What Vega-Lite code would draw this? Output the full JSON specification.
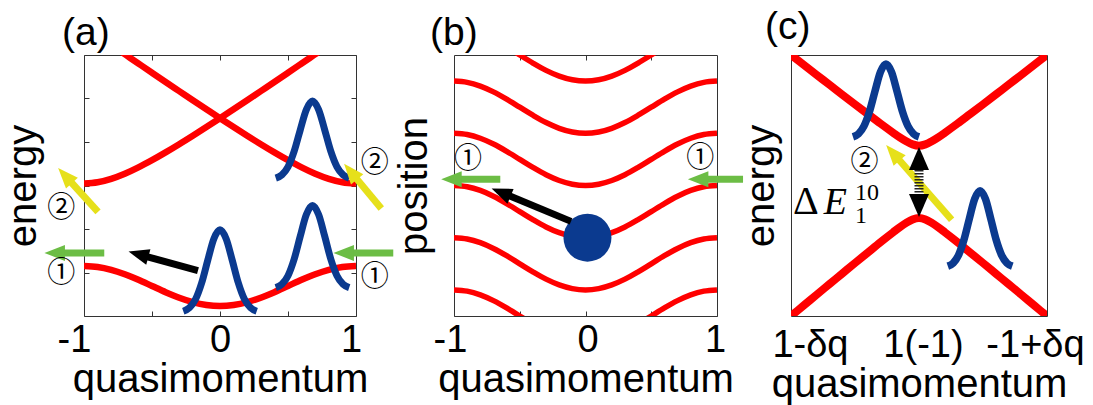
{
  "$schema": "https://vega.github.io/schema/vega-lite/v6.json",
  "background": "white",
  "padding": {"left": 3, "top": 7, "right": 0, "bottom": 0},
  "config": {
    "font": "Liberation Sans",
    "view": {"stroke": "#333333", "strokeWidth": 1},
    "axis": {
      "domain": false, "grid": false,
      "labelFont": "Liberation Sans", "titleFont": "Liberation Sans",
      "labelFontSize": 38, "titleFontSize": 40, "titleFontWeight": "normal",
      "labelColor": "#000000", "titleColor": "#000000", "tickColor": "#333333",
      "labelFlush": false, "labelOverlap": false, "labelBound": false
    },
    "title": {"font": "Liberation Sans", "fontSize": 39, "fontWeight": "normal", "anchor": "start", "frame": "group", "color": "#000000"}
  },
  "datasets": {
    "bandsA": [
      {"q": -1, "E": 1.15, "band": "lo"}, {"q": -0.9, "E": 1.128, "band": "lo"}, {"q": -0.8, "E": 1.062, "band": "lo"}, {"q": -0.7, "E": 0.96, "band": "lo"}, {"q": -0.6, "E": 0.832, "band": "lo"}, {"q": -0.5, "E": 0.69, "band": "lo"}, {"q": -0.4, "E": 0.548, "band": "lo"}, {"q": -0.3, "E": 0.42, "band": "lo"}, {"q": -0.2, "E": 0.318, "band": "lo"}, {"q": -0.1, "E": 0.253, "band": "lo"}, {"q": 0, "E": 0.23, "band": "lo"}, {"q": 0.1, "E": 0.253, "band": "lo"}, {"q": 0.2, "E": 0.318, "band": "lo"}, {"q": 0.3, "E": 0.42, "band": "lo"}, {"q": 0.4, "E": 0.548, "band": "lo"}, {"q": 0.5, "E": 0.69, "band": "lo"}, {"q": 0.6, "E": 0.832, "band": "lo"}, {"q": 0.7, "E": 0.96, "band": "lo"}, {"q": 0.8, "E": 1.062, "band": "lo"}, {"q": 0.9, "E": 1.128, "band": "lo"}, {"q": 1, "E": 1.15, "band": "lo"},
      {"q": -1, "E": 3.045, "band": "upA"}, {"q": -0.9, "E": 3.073, "band": "upA"}, {"q": -0.8, "E": 3.152, "band": "upA"}, {"q": -0.7, "E": 3.27, "band": "upA"}, {"q": -0.6, "E": 3.416, "band": "upA"}, {"q": -0.5, "E": 3.582, "band": "upA"}, {"q": -0.4, "E": 3.761, "band": "upA"}, {"q": -0.3, "E": 3.949, "band": "upA"}, {"q": -0.2, "E": 4.144, "band": "upA"}, {"q": -0.1, "E": 4.343, "band": "upA"}, {"q": 0, "E": 4.546, "band": "upA"}, {"q": 0.1, "E": 4.752, "band": "upA"}, {"q": 0.2, "E": 4.959, "band": "upA"}, {"q": 0.3, "E": 5.169, "band": "upA"}, {"q": 0.4, "E": 5.379, "band": "upA"}, {"q": 0.5, "E": 5.591, "band": "upA"}, {"q": 0.6, "E": 5.804, "band": "upA"}, {"q": 0.69, "E": 5.996, "band": "upA"}, {"q": 0.75, "E": 6.124, "band": "upA"},
      {"q": 1, "E": 3.045, "band": "upB"}, {"q": 0.9, "E": 3.073, "band": "upB"}, {"q": 0.8, "E": 3.152, "band": "upB"}, {"q": 0.7, "E": 3.27, "band": "upB"}, {"q": 0.6, "E": 3.416, "band": "upB"}, {"q": 0.5, "E": 3.582, "band": "upB"}, {"q": 0.4, "E": 3.761, "band": "upB"}, {"q": 0.3, "E": 3.949, "band": "upB"}, {"q": 0.2, "E": 4.144, "band": "upB"}, {"q": 0.1, "E": 4.343, "band": "upB"}, {"q": 0, "E": 4.546, "band": "upB"}, {"q": -0.1, "E": 4.752, "band": "upB"}, {"q": -0.2, "E": 4.959, "band": "upB"}, {"q": -0.3, "E": 5.169, "band": "upB"}, {"q": -0.4, "E": 5.379, "band": "upB"}, {"q": -0.5, "E": 5.591, "band": "upB"}, {"q": -0.6, "E": 5.804, "band": "upB"}, {"q": -0.69, "E": 5.996, "band": "upB"}, {"q": -0.75, "E": 6.124, "band": "upB"}
    ],
    "packetsA": [
      {"q": -0.27, "E": 0.11, "p": "g1"}, {"q": -0.225, "E": 0.188, "p": "g1"}, {"q": -0.18, "E": 0.384, "p": "g1"}, {"q": -0.135, "E": 0.758, "p": "g1"}, {"q": -0.09, "E": 1.281, "p": "g1"}, {"q": -0.045, "E": 1.775, "p": "g1"}, {"q": 0, "E": 1.98, "p": "g1"}, {"q": 0.045, "E": 1.775, "p": "g1"}, {"q": 0.09, "E": 1.281, "p": "g1"}, {"q": 0.135, "E": 0.758, "p": "g1"}, {"q": 0.18, "E": 0.384, "p": "g1"}, {"q": 0.225, "E": 0.188, "p": "g1"}, {"q": 0.27, "E": 0.11, "p": "g1"},
      {"q": 0.41, "E": 0.651, "p": "g2"}, {"q": 0.455, "E": 0.729, "p": "g2"}, {"q": 0.5, "E": 0.927, "p": "g2"}, {"q": 0.545, "E": 1.305, "p": "g2"}, {"q": 0.59, "E": 1.833, "p": "g2"}, {"q": 0.635, "E": 2.333, "p": "g2"}, {"q": 0.68, "E": 2.54, "p": "g2"}, {"q": 0.725, "E": 2.333, "p": "g2"}, {"q": 0.77, "E": 1.833, "p": "g2"}, {"q": 0.815, "E": 1.305, "p": "g2"}, {"q": 0.86, "E": 0.927, "p": "g2"}, {"q": 0.905, "E": 0.729, "p": "g2"}, {"q": 0.95, "E": 0.651, "p": "g2"},
      {"q": 0.41, "E": 3.169, "p": "g3"}, {"q": 0.455, "E": 3.243, "p": "g3"}, {"q": 0.5, "E": 3.428, "p": "g3"}, {"q": 0.545, "E": 3.783, "p": "g3"}, {"q": 0.59, "E": 4.278, "p": "g3"}, {"q": 0.635, "E": 4.746, "p": "g3"}, {"q": 0.68, "E": 4.94, "p": "g3"}, {"q": 0.725, "E": 4.746, "p": "g3"}, {"q": 0.77, "E": 4.278, "p": "g3"}, {"q": 0.815, "E": 3.783, "p": "g3"}, {"q": 0.86, "E": 3.428, "p": "g3"}, {"q": 0.905, "E": 3.243, "p": "g3"}, {"q": 0.95, "E": 3.169, "p": "g3"}
    ],
    "arrowsA": [
      {"q": -0.851, "E": 1.45, "q2": -1.16, "E2": 1.45, "heading": -90, "kind": "green"},
      {"q": 1.274, "E": 1.45, "q2": 0.965, "E2": 1.45, "heading": -90, "kind": "green"},
      {"q": -0.897, "E": 2.393, "q2": -1.102, "E2": 3.102, "heading": -42.3, "kind": "yellow"},
      {"q": 1.186, "E": 2.469, "q2": 0.996, "E2": 3.187, "heading": -39.6, "kind": "yellow"},
      {"q": -0.162, "E": 1.045, "q2": -0.546, "E2": 1.373, "heading": -74.8, "kind": "black"}
    ],
    "marksA": [
      {"q": -1.167, "E": 0.97, "label": "①"}, {"q": -1.167, "E": 2.45, "label": "②"},
      {"q": 1.137, "E": 0.87, "label": "①"}, {"q": 1.137, "E": 3.5, "label": "②"}
    ],
    "curvesB": [
      {"q": -0.6, "x": 5.155, "s": "1"}, {"q": -0.5, "x": 5.0, "s": "1"}, {"q": -0.4, "x": 4.846, "s": "1"}, {"q": -0.3, "x": 4.706, "s": "1"}, {"q": -0.2, "x": 4.596, "s": "1"}, {"q": -0.1, "x": 4.525, "s": "1"}, {"q": 0, "x": 4.5, "s": "1"}, {"q": 0.1, "x": 4.525, "s": "1"}, {"q": 0.2, "x": 4.596, "s": "1"}, {"q": 0.3, "x": 4.706, "s": "1"}, {"q": 0.4, "x": 4.846, "s": "1"}, {"q": 0.5, "x": 5.0, "s": "1"}, {"q": 0.6, "x": 5.155, "s": "1"},
      {"q": -1, "x": 4.5, "s": "2"}, {"q": -0.9, "x": 4.476, "s": "2"}, {"q": -0.8, "x": 4.405, "s": "2"}, {"q": -0.7, "x": 4.294, "s": "2"}, {"q": -0.6, "x": 4.155, "s": "2"}, {"q": -0.5, "x": 4.0, "s": "2"}, {"q": -0.4, "x": 3.846, "s": "2"}, {"q": -0.3, "x": 3.706, "s": "2"}, {"q": -0.2, "x": 3.596, "s": "2"}, {"q": -0.1, "x": 3.525, "s": "2"}, {"q": 0, "x": 3.5, "s": "2"}, {"q": 0.1, "x": 3.525, "s": "2"}, {"q": 0.2, "x": 3.596, "s": "2"}, {"q": 0.3, "x": 3.706, "s": "2"}, {"q": 0.4, "x": 3.846, "s": "2"}, {"q": 0.5, "x": 4.0, "s": "2"}, {"q": 0.6, "x": 4.155, "s": "2"}, {"q": 0.7, "x": 4.294, "s": "2"}, {"q": 0.8, "x": 4.405, "s": "2"}, {"q": 0.9, "x": 4.476, "s": "2"}, {"q": 1, "x": 4.5, "s": "2"},
      {"q": -1, "x": 3.5, "s": "3"}, {"q": -0.9, "x": 3.476, "s": "3"}, {"q": -0.8, "x": 3.405, "s": "3"}, {"q": -0.7, "x": 3.294, "s": "3"}, {"q": -0.6, "x": 3.155, "s": "3"}, {"q": -0.5, "x": 3.0, "s": "3"}, {"q": -0.4, "x": 2.846, "s": "3"}, {"q": -0.3, "x": 2.706, "s": "3"}, {"q": -0.2, "x": 2.596, "s": "3"}, {"q": -0.1, "x": 2.525, "s": "3"}, {"q": 0, "x": 2.5, "s": "3"}, {"q": 0.1, "x": 2.525, "s": "3"}, {"q": 0.2, "x": 2.596, "s": "3"}, {"q": 0.3, "x": 2.706, "s": "3"}, {"q": 0.4, "x": 2.846, "s": "3"}, {"q": 0.5, "x": 3.0, "s": "3"}, {"q": 0.6, "x": 3.155, "s": "3"}, {"q": 0.7, "x": 3.294, "s": "3"}, {"q": 0.8, "x": 3.405, "s": "3"}, {"q": 0.9, "x": 3.476, "s": "3"}, {"q": 1, "x": 3.5, "s": "3"},
      {"q": -1, "x": 2.5, "s": "4"}, {"q": -0.9, "x": 2.476, "s": "4"}, {"q": -0.8, "x": 2.405, "s": "4"}, {"q": -0.7, "x": 2.294, "s": "4"}, {"q": -0.6, "x": 2.155, "s": "4"}, {"q": -0.5, "x": 2.0, "s": "4"}, {"q": -0.4, "x": 1.846, "s": "4"}, {"q": -0.3, "x": 1.706, "s": "4"}, {"q": -0.2, "x": 1.596, "s": "4"}, {"q": -0.1, "x": 1.525, "s": "4"}, {"q": 0, "x": 1.5, "s": "4"}, {"q": 0.1, "x": 1.525, "s": "4"}, {"q": 0.2, "x": 1.596, "s": "4"}, {"q": 0.3, "x": 1.706, "s": "4"}, {"q": 0.4, "x": 1.846, "s": "4"}, {"q": 0.5, "x": 2.0, "s": "4"}, {"q": 0.6, "x": 2.155, "s": "4"}, {"q": 0.7, "x": 2.294, "s": "4"}, {"q": 0.8, "x": 2.405, "s": "4"}, {"q": 0.9, "x": 2.476, "s": "4"}, {"q": 1, "x": 2.5, "s": "4"},
      {"q": -1, "x": 1.5, "s": "5"}, {"q": -0.9, "x": 1.476, "s": "5"}, {"q": -0.8, "x": 1.405, "s": "5"}, {"q": -0.7, "x": 1.294, "s": "5"}, {"q": -0.6, "x": 1.155, "s": "5"}, {"q": -0.5, "x": 1.0, "s": "5"}, {"q": -0.4, "x": 0.846, "s": "5"}, {"q": -0.3, "x": 0.706, "s": "5"}, {"q": -0.2, "x": 0.596, "s": "5"}, {"q": -0.1, "x": 0.525, "s": "5"}, {"q": 0, "x": 0.5, "s": "5"}, {"q": 0.1, "x": 0.525, "s": "5"}, {"q": 0.2, "x": 0.596, "s": "5"}, {"q": 0.3, "x": 0.706, "s": "5"}, {"q": 0.4, "x": 0.846, "s": "5"}, {"q": 0.5, "x": 1.0, "s": "5"}, {"q": 0.6, "x": 1.155, "s": "5"}, {"q": 0.7, "x": 1.294, "s": "5"}, {"q": 0.8, "x": 1.405, "s": "5"}, {"q": 0.9, "x": 1.476, "s": "5"}, {"q": 1, "x": 1.5, "s": "5"},
      {"q": -1, "x": 0.5, "s": "6L"}, {"q": -0.9, "x": 0.476, "s": "6L"}, {"q": -0.8, "x": 0.405, "s": "6L"}, {"q": -0.7, "x": 0.294, "s": "6L"}, {"q": -0.6, "x": 0.155, "s": "6L"}, {"q": -0.5, "x": 0.0, "s": "6L"}, {"q": -0.4, "x": -0.154, "s": "6L"},
      {"q": 0.4, "x": -0.154, "s": "6R"}, {"q": 0.5, "x": 0.0, "s": "6R"}, {"q": 0.6, "x": 0.155, "s": "6R"}, {"q": 0.7, "x": 0.294, "s": "6R"}, {"q": 0.8, "x": 0.405, "s": "6R"}, {"q": 0.9, "x": 0.476, "s": "6R"}, {"q": 1, "x": 0.5, "s": "6R"}
    ],
    "ballB": [{"q": 0.015, "x": 1.5}],
    "arrowsB": [
      {"q": -0.11, "x": 1.813, "q2": -0.589, "x2": 2.313, "heading": -67.4, "kind": "black"},
      {"q": -0.648, "x": 2.62, "q2": -0.962, "x2": 2.62, "heading": -90, "kind": "green"},
      {"q": 1.198, "x": 2.62, "q2": 0.914, "x2": 2.62, "heading": -90, "kind": "green"}
    ],
    "marksB": [
      {"q": -0.894, "x": 2.98, "label": "①"}, {"q": 0.873, "x": 3.0, "label": "①"}
    ],
    "bandsC": [
      {"q": -1.05, "E": 1.038, "band": "up"}, {"q": -1, "E": 1.0, "band": "up"}, {"q": -0.9, "E": 0.924, "band": "up"}, {"q": -0.8, "E": 0.848, "band": "up"}, {"q": -0.7, "E": 0.773, "band": "up"}, {"q": -0.6, "E": 0.697, "band": "up"}, {"q": -0.5, "E": 0.622, "band": "up"}, {"q": -0.4, "E": 0.548, "band": "up"}, {"q": -0.3, "E": 0.474, "band": "up"}, {"q": -0.2, "E": 0.403, "band": "up"}, {"q": -0.15, "E": 0.369, "band": "up"}, {"q": -0.1, "E": 0.339, "band": "up"}, {"q": -0.05, "E": 0.315, "band": "up"}, {"q": 0, "E": 0.305, "band": "up"}, {"q": 0.05, "E": 0.315, "band": "up"}, {"q": 0.1, "E": 0.339, "band": "up"}, {"q": 0.15, "E": 0.369, "band": "up"}, {"q": 0.2, "E": 0.403, "band": "up"}, {"q": 0.3, "E": 0.474, "band": "up"}, {"q": 0.4, "E": 0.548, "band": "up"}, {"q": 0.5, "E": 0.622, "band": "up"}, {"q": 0.6, "E": 0.697, "band": "up"}, {"q": 0.7, "E": 0.773, "band": "up"}, {"q": 0.8, "E": 0.848, "band": "up"}, {"q": 0.9, "E": 0.924, "band": "up"}, {"q": 1, "E": 1.0, "band": "up"}, {"q": 1.05, "E": 1.038, "band": "up"},
      {"q": -1.05, "E": -1.041, "band": "lo"}, {"q": -1, "E": -1.0, "band": "lo"}, {"q": -0.9, "E": -0.919, "band": "lo"}, {"q": -0.8, "E": -0.837, "band": "lo"}, {"q": -0.7, "E": -0.756, "band": "lo"}, {"q": -0.6, "E": -0.675, "band": "lo"}, {"q": -0.5, "E": -0.594, "band": "lo"}, {"q": -0.4, "E": -0.514, "band": "lo"}, {"q": -0.3, "E": -0.434, "band": "lo"}, {"q": -0.2, "E": -0.357, "band": "lo"}, {"q": -0.15, "E": -0.32, "band": "lo"}, {"q": -0.1, "E": -0.287, "band": "lo"}, {"q": -0.05, "E": -0.26, "band": "lo"}, {"q": 0, "E": -0.249, "band": "lo"}, {"q": 0.05, "E": -0.26, "band": "lo"}, {"q": 0.1, "E": -0.287, "band": "lo"}, {"q": 0.15, "E": -0.32, "band": "lo"}, {"q": 0.2, "E": -0.357, "band": "lo"}, {"q": 0.3, "E": -0.434, "band": "lo"}, {"q": 0.4, "E": -0.514, "band": "lo"}, {"q": 0.5, "E": -0.594, "band": "lo"}, {"q": 0.6, "E": -0.675, "band": "lo"}, {"q": 0.7, "E": -0.756, "band": "lo"}, {"q": 0.8, "E": -0.837, "band": "lo"}, {"q": 0.9, "E": -0.919, "band": "lo"}, {"q": 1, "E": -1.0, "band": "lo"}, {"q": 1.05, "E": -1.041, "band": "lo"}
    ],
    "packetsC": [
      {"q": -0.516, "E": 0.373, "p": "g1"}, {"q": -0.473, "E": 0.396, "p": "g1"}, {"q": -0.43, "E": 0.455, "p": "g1"}, {"q": -0.387, "E": 0.566, "p": "g1"}, {"q": -0.344, "E": 0.722, "p": "g1"}, {"q": -0.301, "E": 0.87, "p": "g1"}, {"q": -0.258, "E": 0.931, "p": "g1"}, {"q": -0.215, "E": 0.87, "p": "g1"}, {"q": -0.172, "E": 0.722, "p": "g1"}, {"q": -0.129, "E": 0.566, "p": "g1"}, {"q": -0.086, "E": 0.455, "p": "g1"}, {"q": -0.043, "E": 0.396, "p": "g1"}, {"q": 0.0, "E": 0.373, "p": "g1"},
      {"q": 0.225, "E": -0.618, "p": "g2"}, {"q": 0.267, "E": -0.594, "p": "g2"}, {"q": 0.309, "E": -0.533, "p": "g2"}, {"q": 0.351, "E": -0.417, "p": "g2"}, {"q": 0.393, "E": -0.256, "p": "g2"}, {"q": 0.435, "E": -0.103, "p": "g2"}, {"q": 0.477, "E": -0.04, "p": "g2"}, {"q": 0.519, "E": -0.103, "p": "g2"}, {"q": 0.561, "E": -0.256, "p": "g2"}, {"q": 0.603, "E": -0.417, "p": "g2"}, {"q": 0.645, "E": -0.533, "p": "g2"}, {"q": 0.687, "E": -0.594, "p": "g2"}, {"q": 0.729, "E": -0.618, "p": "g2"}
    ],
    "arrowC": [
      {"q": 0.255, "E": -0.262, "q2": -0.165, "E2": 0.207, "heading": -41.3}
    ],
    "gapC": [{"q": 0, "E": 0.142, "E2": -0.088}],
    "gapHeadsC": [
      {"q": 0, "E": 0.142, "heading": 0}, {"q": 0, "E": -0.088, "heading": 180}
    ],
    "marksC": [{"q": -0.425, "E": 0.17, "label": "②"}],
    "gapLabelC": [
      {"q": -0.985, "E": -0.218, "t": "Δ", "part": "main"},
      {"q": -0.745, "E": -0.218, "t": "E", "part": "var"},
      {"q": -0.5, "E": -0.11, "t": "10", "part": "sup"},
      {"q": -0.5, "E": -0.29, "t": "1", "part": "sub"}
    ]
  },
  "hconcat": [
    {
      "width": 272, "height": 261,
      "title": {"text": "(a)", "dx": -22, "offset": 2},
      "layer": [
        {
          "data": {"name": "bandsA"},
          "mark": {"type": "line", "color": "#ff0000", "strokeWidth": 6.5, "interpolate": "monotone", "clip": true},
          "encoding": {
            "x": {"field": "q", "type": "quantitative", "scale": {"domain": [-1, 1], "nice": false},
                  "axis": {"orient": "bottom", "values": [-1, -0.5, 0, 0.5, 1], "tickSize": -5,
                           "labelExpr": "datum.value == 0 ? '0' : datum.value == 1 ? '1' : datum.value == -1 ? '-1' : ''",
                           "labelOffset": {"condition": [{"test": "datum.value == -1", "value": -10}, {"test": "datum.value == 1", "value": -5}], "value": 0},
                           "labelPadding": 10, "title": "quasimomentum", "titlePadding": 0}},
            "y": {"field": "E", "type": "quantitative", "scale": {"domain": [0, 6], "nice": false, "zero": false},
                  "axis": {"orient": "left", "values": [1, 2, 3, 4, 5], "tickSize": -5, "labels": false, "title": "energy", "titlePadding": 40}},
            "detail": {"field": "band"}
          }
        },
        {
          "data": {"name": "packetsA"},
          "mark": {"type": "line", "color": "#0b3a8f", "strokeWidth": 7, "interpolate": "monotone"},
          "encoding": {
            "x": {"field": "q", "type": "quantitative", "axis": {"orient": "top", "values": [-1, -0.5, 0, 0.5, 1], "tickSize": -5, "labels": false, "title": null}},
            "y": {"field": "E", "type": "quantitative", "axis": {"orient": "right", "values": [1, 2, 3, 4, 5], "tickSize": -5, "labels": false, "title": null}},
            "detail": {"field": "p"}
          }
        },
        {
          "data": {"name": "arrowsA"},
          "mark": {"type": "rule", "strokeCap": "butt"},
          "encoding": {
            "x": {"field": "q", "type": "quantitative", "axis": null}, "y": {"field": "E", "type": "quantitative", "axis": null},
            "x2": {"field": "q2"}, "y2": {"field": "E2"},
            "color": {"field": "kind", "type": "nominal", "legend": null, "scale": {"domain": ["green", "yellow", "black"], "range": ["#6cbd45", "#e6e01a", "#000000"]}},
            "strokeWidth": {"field": "kind", "type": "ordinal", "legend": null, "scale": {"domain": ["green", "yellow", "black"], "range": [7, 7, 8]}}
          }
        },
        {
          "data": {"name": "arrowsA"},
          "mark": {"type": "point", "filled": true, "opacity": 1, "strokeWidth": 0, "shape": "M0,-2L0.9,0.3L-0.9,0.3Z"},
          "encoding": {
            "x": {"field": "q2", "type": "quantitative", "axis": null}, "y": {"field": "E2", "type": "quantitative", "axis": null},
            "angle": {"field": "heading", "type": "quantitative", "scale": null},
            "color": {"field": "kind", "type": "nominal", "legend": null, "scale": {"domain": ["green", "yellow", "black"], "range": ["#6cbd45", "#e6e01a", "#000000"]}},
            "size": {"field": "kind", "type": "ordinal", "legend": null, "scale": {"domain": ["green", "yellow", "black"], "range": [317, 317, 484]}}
          }
        },
        {
          "data": {"name": "marksA"},
          "mark": {"type": "text", "font": "Noto Sans CJK JP", "fontSize": 28, "align": "center", "baseline": "middle", "color": "#000000"},
          "encoding": {
            "x": {"field": "q", "type": "quantitative", "axis": null}, "y": {"field": "E", "type": "quantitative", "axis": null},
            "text": {"field": "label"}
          }
        }
      ],
      "resolve": {"axis": {"x": "independent", "y": "independent"}}
    },
    {
      "hconcat": [
        {
          "width": 263, "height": 261,
          "title": {"text": "(b)", "dx": -24, "offset": 2},
          "layer": [
            {
              "data": {"name": "curvesB"},
              "mark": {"type": "line", "color": "#ff0000", "strokeWidth": 5.5, "interpolate": "monotone", "clip": true},
              "encoding": {
                "x": {"field": "q", "type": "quantitative", "scale": {"domain": [-1, 1], "nice": false},
                      "axis": {"orient": "bottom", "values": [-1, -0.5, 0, 0.5, 1], "tickSize": -5,
                               "labelExpr": "datum.value == 0 ? '0' : datum.value == 1 ? '1' : datum.value == -1 ? '-1' : ''",
                               "labelOffset": {"condition": [{"test": "datum.value == -1", "value": -4}, {"test": "datum.value == 1", "value": -2}, {"test": "datum.value == 0", "value": 2}], "value": 0},
                               "labelPadding": 10, "title": "quasimomentum", "titlePadding": 0}},
                "y": {"field": "x", "type": "quantitative", "scale": {"domain": [0, 5], "nice": false, "zero": false},
                      "axis": {"orient": "left", "ticks": false, "labels": false, "title": "position", "titlePadding": 20}},
                "detail": {"field": "s"}
              }
            },
            {
              "data": {"name": "ballB"},
              "mark": {"type": "point", "filled": true, "opacity": 1, "shape": "circle", "size": 2304, "color": "#0b3a8f", "strokeWidth": 0},
              "encoding": {
                "x": {"field": "q", "type": "quantitative", "axis": {"orient": "top", "values": [-0.5, 0, 0.5], "tickSize": -5, "labels": false, "title": null}},
                "y": {"field": "x", "type": "quantitative", "axis": null}
              }
            },
            {
              "data": {"name": "arrowsB"},
              "mark": {"type": "rule", "strokeCap": "butt"},
              "encoding": {
                "x": {"field": "q", "type": "quantitative", "axis": null}, "y": {"field": "x", "type": "quantitative", "axis": null},
                "x2": {"field": "q2"}, "y2": {"field": "x2"},
                "color": {"field": "kind", "type": "nominal", "legend": null, "scale": {"domain": ["green", "yellow", "black"], "range": ["#6cbd45", "#e6e01a", "#000000"]}},
                "strokeWidth": {"field": "kind", "type": "ordinal", "legend": null, "scale": {"domain": ["green", "yellow", "black"], "range": [7, 7, 8]}}
              }
            },
            {
              "data": {"name": "arrowsB"},
              "mark": {"type": "point", "filled": true, "opacity": 1, "strokeWidth": 0, "shape": "M0,-2L0.9,0.3L-0.9,0.3Z"},
              "encoding": {
                "x": {"field": "q2", "type": "quantitative", "axis": null}, "y": {"field": "x2", "type": "quantitative", "axis": null},
                "angle": {"field": "heading", "type": "quantitative", "scale": null},
                "color": {"field": "kind", "type": "nominal", "legend": null, "scale": {"domain": ["green", "yellow", "black"], "range": ["#6cbd45", "#e6e01a", "#000000"]}},
                "size": {"field": "kind", "type": "ordinal", "legend": null, "scale": {"domain": ["green", "yellow", "black"], "range": [317, 317, 484]}}
              }
            },
            {
              "data": {"name": "marksB"},
              "mark": {"type": "text", "font": "Noto Sans CJK JP", "fontSize": 28, "align": "center", "baseline": "middle", "color": "#000000"},
              "encoding": {
                "x": {"field": "q", "type": "quantitative", "axis": null}, "y": {"field": "x", "type": "quantitative", "axis": null},
                "text": {"field": "label"}
              }
            }
          ],
          "resolve": {"axis": {"x": "independent", "y": "independent"}}
        },
        {
          "width": 256, "height": 261,
          "title": {"text": "(c)", "dx": -26, "offset": 2},
          "layer": [
            {
              "data": {"name": "bandsC"},
              "mark": {"type": "line", "color": "#ff0000", "strokeWidth": 8, "interpolate": "monotone", "clip": true},
              "encoding": {
                "x": {"field": "q", "type": "quantitative", "scale": {"domain": [-1, 1], "nice": false},
                      "axis": {"orient": "bottom", "values": [-0.852, 0.031, 0.906], "ticks": false,
                               "labelExpr": "datum.value < -0.5 ? '1-δq' : datum.value > 0.5 ? '-1+δq' : '1(-1)'",
                               "labelPadding": 10, "title": "quasimomentum", "titlePadding": 0}},
                "y": {"field": "E", "type": "quantitative", "scale": {"domain": [-1, 1], "nice": false, "zero": false},
                      "axis": {"orient": "left", "ticks": false, "labels": false, "title": "energy", "titlePadding": 10}},
                "detail": {"field": "band"}
              }
            },
            {
              "data": {"name": "packetsC"},
              "mark": {"type": "line", "color": "#0b3a8f", "strokeWidth": 7.5, "interpolate": "monotone"},
              "encoding": {
                "x": {"field": "q", "type": "quantitative"}, "y": {"field": "E", "type": "quantitative"},
                "detail": {"field": "p"}
              }
            },
            {
              "data": {"name": "arrowC"},
              "mark": {"type": "rule", "strokeCap": "butt", "color": "#e6e01a", "strokeWidth": 7},
              "encoding": {
                "x": {"field": "q", "type": "quantitative"}, "y": {"field": "E", "type": "quantitative"},
                "x2": {"field": "q2"}, "y2": {"field": "E2"}
              }
            },
            {
              "data": {"name": "arrowC"},
              "mark": {"type": "point", "filled": true, "opacity": 1, "strokeWidth": 0, "color": "#e6e01a", "size": 317, "shape": "M0,-2L0.9,0.3L-0.9,0.3Z"},
              "encoding": {
                "x": {"field": "q2", "type": "quantitative"}, "y": {"field": "E2", "type": "quantitative"},
                "angle": {"field": "heading", "type": "quantitative", "scale": null}
              }
            },
            {
              "data": {"name": "gapC"},
              "mark": {"type": "rule", "color": "#222222", "strokeWidth": 9, "strokeDash": [1.6, 1.4]},
              "encoding": {
                "x": {"field": "q", "type": "quantitative"}, "y": {"field": "E", "type": "quantitative"}, "y2": {"field": "E2"}
              }
            },
            {
              "data": {"name": "gapHeadsC"},
              "mark": {"type": "point", "filled": true, "opacity": 1, "strokeWidth": 0, "color": "#000000", "size": 400, "shape": "M0,-2L1,0.3L-1,0.3Z"},
              "encoding": {
                "x": {"field": "q", "type": "quantitative"}, "y": {"field": "E", "type": "quantitative"},
                "angle": {"field": "heading", "type": "quantitative", "scale": null}
              }
            },
            {
              "data": {"name": "marksC"},
              "mark": {"type": "text", "font": "Noto Sans CJK JP", "fontSize": 28, "align": "center", "baseline": "middle", "color": "#000000"},
              "encoding": {
                "x": {"field": "q", "type": "quantitative"}, "y": {"field": "E", "type": "quantitative"},
                "text": {"field": "label"}
              }
            },
            {
              "data": {"name": "gapLabelC"},
              "transform": [{"filter": "datum.part == 'main'"}],
              "mark": {"type": "text", "font": "Liberation Serif", "fontSize": 40, "align": "left", "baseline": "alphabetic", "color": "#000000"},
              "encoding": {"x": {"field": "q", "type": "quantitative"}, "y": {"field": "E", "type": "quantitative"}, "text": {"field": "t"}}
            },
            {
              "data": {"name": "gapLabelC"},
              "transform": [{"filter": "datum.part == 'var'"}],
              "mark": {"type": "text", "font": "Liberation Serif", "fontSize": 38, "fontStyle": "italic", "align": "left", "baseline": "alphabetic", "color": "#000000"},
              "encoding": {"x": {"field": "q", "type": "quantitative"}, "y": {"field": "E", "type": "quantitative"}, "text": {"field": "t"}}
            },
            {
              "data": {"name": "gapLabelC"},
              "transform": [{"filter": "datum.part == 'sup' || datum.part == 'sub'"}],
              "mark": {"type": "text", "font": "Liberation Serif", "fontSize": 24, "align": "left", "baseline": "alphabetic", "color": "#000000"},
              "encoding": {"x": {"field": "q", "type": "quantitative"}, "y": {"field": "E", "type": "quantitative"}, "text": {"field": "t"}}
            }
          ]
        }
      ],
      "spacing": 74,
      "bounds": "flush"
    }
  ],
  "spacing": 98,
  "bounds": "flush"
}
